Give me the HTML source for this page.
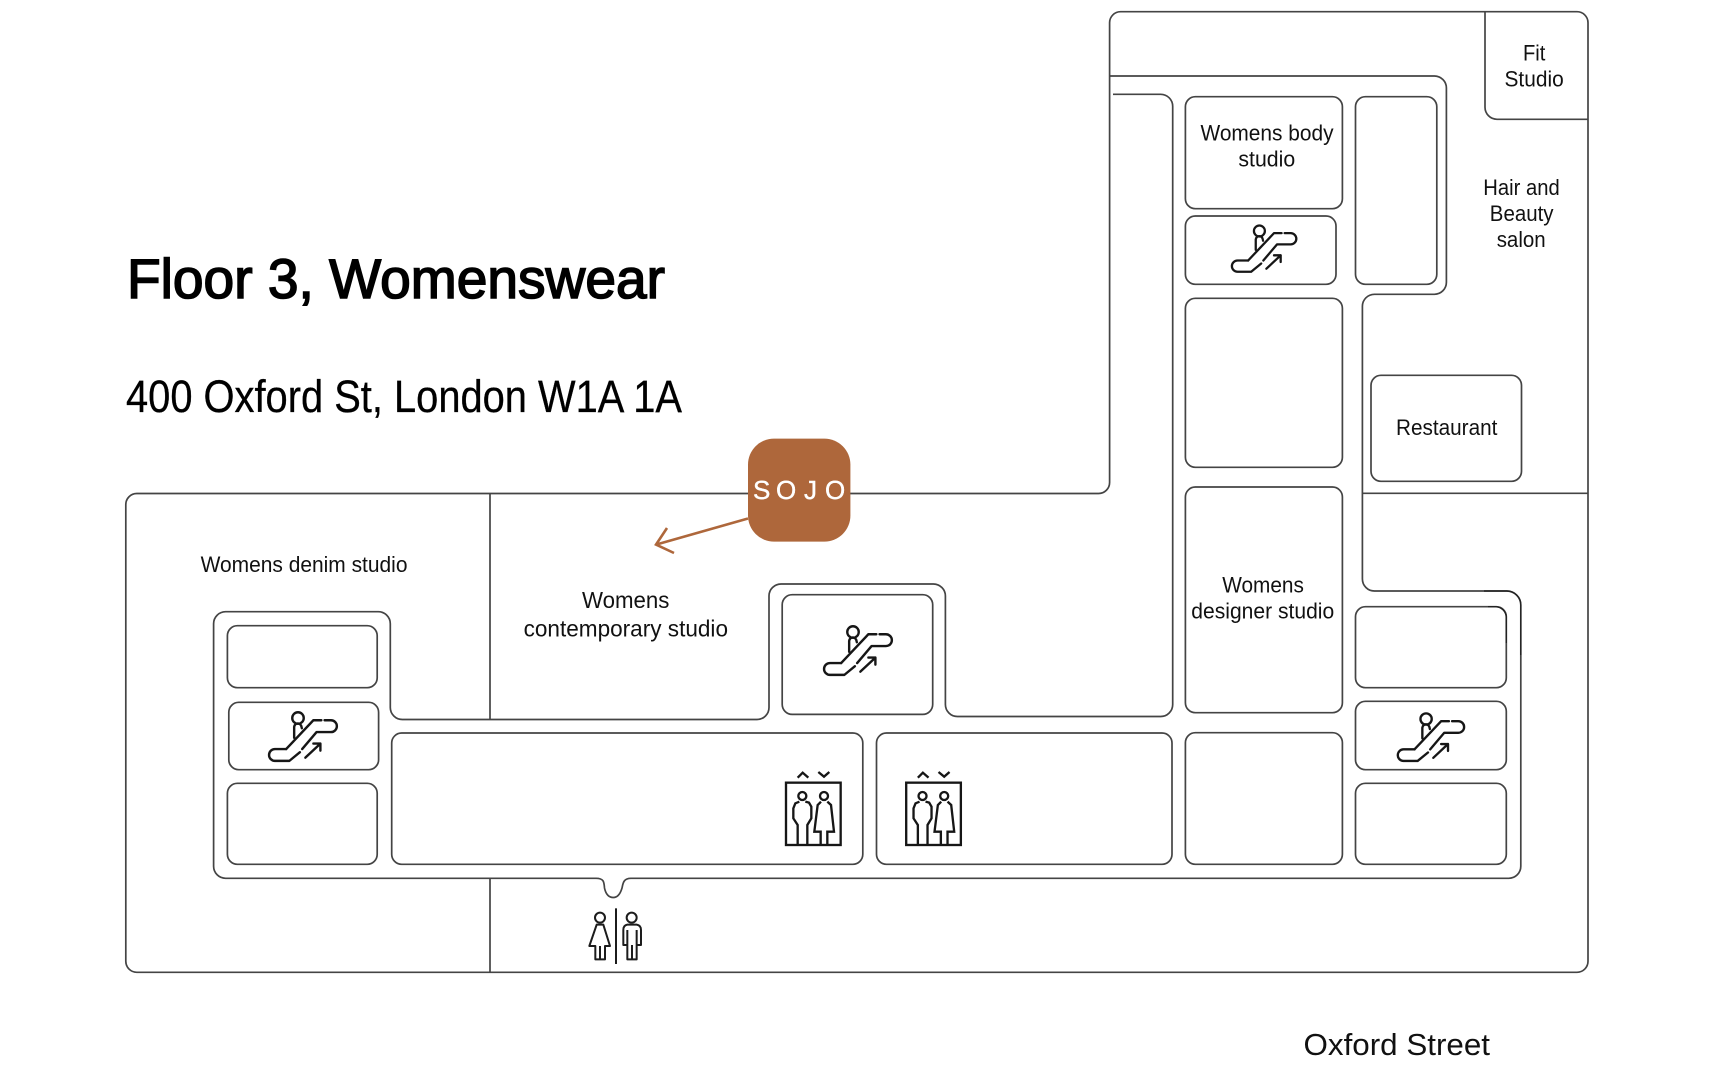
<!DOCTYPE html>
<html><head><meta charset="utf-8"><style>
html,body{margin:0;padding:0;background:#fff;width:1732px;height:1076px;overflow:hidden}
svg{display:block}
text{font-family:"Liberation Sans",sans-serif;fill:#111}
.l{font-size:22px}
.w{fill:none;stroke:#444;stroke-width:1.7}
.ic{fill:none;stroke:#161616;stroke-width:7.5;stroke-linecap:round;stroke-linejoin:round}
.lf{fill:none;stroke:#161616;stroke-width:7;stroke-linejoin:miter}
</style></head><body>
<svg width="1732" height="1076" viewBox="0 0 1732 1076" xmlns="http://www.w3.org/2000/svg">
<defs>
<g id="esc" class="ic">
<circle cx="222" cy="38" r="18"/>
<path d="M185,135H150A18.5,18.5 0 0 0 150,172H195L228,145"/>
<path d="M235,135L280,82H325A18.5,18.5 0 0 0 325,45H305"/>
<path d="M295,45H270L185,135"/>
<path d="M245,162L292,118M270,118H292V140"/>
<path d="M210,100V66Q212,55 222,55Q232,55 234,70"/>
</g>
<g id="lift" class="lf">
<rect x="48" y="98" width="164" height="187"/>
<path d="M83,83L98,68L115,83M145,66L162,80L178,66"/>
<circle cx="97" cy="138" r="12"/>
<circle cx="162" cy="138" r="12"/>
<path d="M88,155L76,160L70,175V205L83,225V285M112,285V225L124,205V170L117,158L106,155"/>
<path d="M153,155L143,165L133,245H152V285M172,285V245H192L183,165L172,155"/>
</g>
</defs>

<g class="w">
<path d="M136.8,493.5H1098.6A11,11 0 0 0 1109.6,482.5V22.7A11,11 0 0 1 1120.6,11.7H1577A11,11 0 0 1 1588,22.7V961.3A11,11 0 0 1 1577,972.3H136.8A11,11 0 0 1 125.8,961.3V504.5A11,11 0 0 1 136.8,493.5Z"/>
<path d="M1485,12V107.3A12,12 0 0 0 1497,119.3H1588"/>
<path d="M1362.4,493.3H1588"/>
<path d="M490,493V719.5M490,878.3V972.3"/>
<path d="M1110,76H1434.4A12,12 0 0 1 1446.4,88V282.3A12,12 0 0 1 1434.4,294.3H1374.4A12,12 0 0 0 1362.4,306.3V579A12,12 0 0 0 1374.4,591H1506.8A14,14 0 0 1 1520.8,605V866.3A12,12 0 0 1 1508.8,878.3H631C623,878.3 623,884 622,888C620,895 617,897.5 613.3,897.5C609,897.5 606,895 604.5,888C604,882 604,878.3 596,878.3H225.6A12,12 0 0 1 213.6,866.3V623.7A12,12 0 0 1 225.6,611.7H378.3A12,12 0 0 1 390.3,623.7V707.5A12,12 0 0 0 402.3,719.5H757A12,12 0 0 0 769,707.5V596A12,12 0 0 1 781,584H933.4A12,12 0 0 1 945.4,596V704.5A12,12 0 0 0 957.4,716.5H1160.7A12,12 0 0 0 1172.7,704.5V106.3A12,12 0 0 0 1160.7,94.3H1113"/>
<rect x="1185.4" y="96.7" width="157" height="112" rx="10"/>
<rect x="1185.4" y="216" width="150.6" height="68.3" rx="10"/>
<rect x="1355.5" y="96.7" width="81.3" height="187.6" rx="10"/>
<rect x="1185.4" y="298.3" width="157" height="169" rx="10"/>
<rect x="1185.4" y="487" width="157" height="225.7" rx="10"/>
<rect x="1185.4" y="732.7" width="157" height="131.6" rx="10"/>
<rect x="1371" y="375.3" width="150.5" height="106" rx="10"/>
<rect x="1355.5" y="606.7" width="150.8" height="81" rx="10"/>
<rect x="1355.5" y="701.3" width="150.8" height="68.4" rx="10"/>
<rect x="1355.5" y="783.3" width="150.8" height="81" rx="10"/>
<rect x="227.4" y="625.7" width="149.8" height="62" rx="10"/>
<rect x="228.8" y="702.3" width="149.8" height="67.4" rx="10"/>
<rect x="227.4" y="783.3" width="149.8" height="81" rx="10"/>
<rect x="391.7" y="733" width="471.1" height="131.3" rx="10"/>
<rect x="876.5" y="733" width="295.5" height="131.3" rx="10"/>
<rect x="782.2" y="594.7" width="150.5" height="119.7" rx="10"/>
</g>
<path d="M1484,591H1506.8A14,14 0 0 1 1520.8,605V655M1488,606.7H1495A11,11 0 0 1 1506.3,618V643" fill="none" stroke="#222" stroke-width="1.4"/>

<use href="#esc" transform="translate(853,632) scale(0.32) translate(-222,-38)"/>
<use href="#esc" transform="translate(1259.4,231) scale(0.304) translate(-222,-38)"/>
<use href="#esc" transform="translate(1426.1,719) scale(0.313) translate(-222,-38)"/>
<use href="#esc" transform="translate(298,718) scale(0.32) translate(-222,-38)"/>

<use href="#lift" transform="translate(770,750) scale(0.3333)"/>
<use href="#lift" transform="translate(890.2,750) scale(0.3333)"/>

<g transform="translate(570,880) scale(0.3333)" fill="none" stroke="#1c1c1c" stroke-width="6" stroke-linejoin="round">
<circle cx="90" cy="113" r="15"/>
<path d="M80,134L58,198H76V238H105V198H120L100,134ZM90,198V238"/>
<path d="M138,85V252" stroke-width="6"/>
<circle cx="185" cy="113" r="15"/>
<path d="M172,134Q160,136 160,150V195H172V238H200V195H213V150Q213,136 200,134ZM172,150V195M200,150V195M186,195V238"/>
</g>

<rect x="748" y="438.6" width="102.4" height="103" rx="26" fill="#ae673b"/>
<text x="753 776 804 825" y="499" font-size="26" style="fill:#fff;stroke:#fff;stroke-width:.4">SOJO</text>
<path d="M748,518.5L656,544.6M667,528L656,544.6L674,553" fill="none" stroke="#ae673b" stroke-width="2.6"/>

<text x="127" y="298" font-size="56" textLength="538" lengthAdjust="spacingAndGlyphs" style="stroke:#000;stroke-width:1.6;fill:#000">Floor 3, Womenswear</text>
<text x="126" y="412" font-size="45" textLength="556" lengthAdjust="spacingAndGlyphs" style="fill:#000;stroke:#000;stroke-width:.3">400 Oxford St, London W1A 1A</text>

<text class="l" x="1523" y="60.7" textLength="22.4" lengthAdjust="spacingAndGlyphs">Fit</text>
<text class="l" x="1504.5" y="86.7" textLength="59.2" lengthAdjust="spacingAndGlyphs">Studio</text>
<text class="l" x="1200.5" y="140.7" textLength="133" lengthAdjust="spacingAndGlyphs">Womens body</text>
<text class="l" x="1238.4" y="166.7" textLength="56.8" lengthAdjust="spacingAndGlyphs">studio</text>
<text class="l" x="1483.3" y="195" textLength="76.4" lengthAdjust="spacingAndGlyphs">Hair and</text>
<text class="l" x="1489.8" y="221" textLength="63.7" lengthAdjust="spacingAndGlyphs">Beauty</text>
<text class="l" x="1496.7" y="247" textLength="49" lengthAdjust="spacingAndGlyphs">salon</text>
<text class="l" x="1396" y="435" textLength="101.4" lengthAdjust="spacingAndGlyphs">Restaurant</text>
<text class="l" x="1222.2" y="592.7" textLength="81.7" lengthAdjust="spacingAndGlyphs">Womens</text>
<text class="l" x="1191.3" y="618.7" textLength="142.9" lengthAdjust="spacingAndGlyphs">designer studio</text>
<text class="l" x="200.6" y="572" textLength="206.9" lengthAdjust="spacingAndGlyphs">Womens denim studio</text>
<text x="582" y="608" font-size="23" textLength="87.4" lengthAdjust="spacingAndGlyphs">Womens</text>
<text x="523.6" y="636.5" font-size="23" textLength="204.4" lengthAdjust="spacingAndGlyphs">contemporary studio</text>
<text x="1303.5" y="1055" font-size="31" textLength="186.5" lengthAdjust="spacingAndGlyphs">Oxford Street</text>
</svg>
</body></html>
